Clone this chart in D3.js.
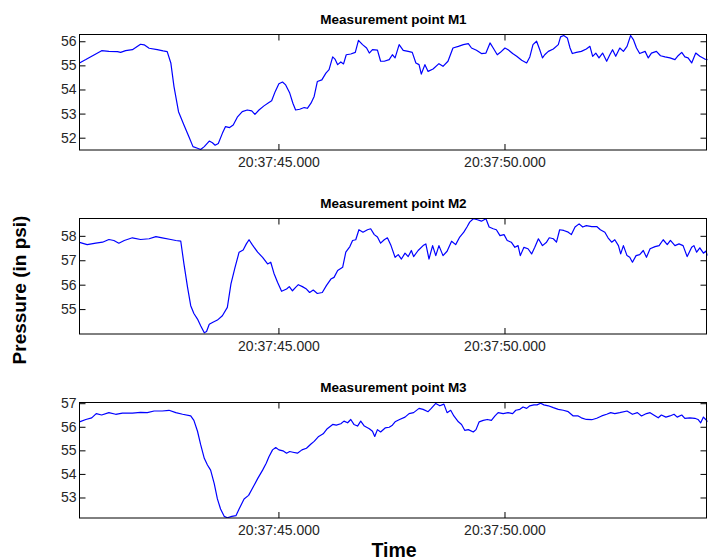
<!DOCTYPE html>
<html>
<head>
<meta charset="utf-8">
<script src="https://cdn.jsdelivr.net/npm/d3@7"></script>
<style>
  body { margin: 0; background: #fff; }
  svg { display: block; }
  text { font-family: "Liberation Sans", Arial, Helvetica, sans-serif; }
</style>
</head>
<body>
<svg id="chart" width="708" height="560"></svg>
<script>
// seconds after 20:37:00
const timeRange = [40.6, 54.49];
const timeTicks = [45, 50];
const titles = ["Measurement point M1", "Measurement point M2", "Measurement point M3"];

const m1Time = [40.60,40.74,40.89,41.09,41.25,41.44,41.51,41.62,41.77,41.95,42.03,42.14,42.32,42.45,42.54,42.62,42.69,42.79,42.91,43.02,
  43.11,43.21,43.28,43.36,43.47,43.54,43.60,43.67,43.76,43.83,43.92,44.00,44.09,44.20,44.31,44.41,44.48,44.57,44.68,44.79,
  44.85,44.93,45.01,45.09,45.16,45.25,45.32,45.38,45.47,45.57,45.64,45.72,45.79,45.86,45.96,46.05,46.12,46.20,46.25,46.31,
  46.38,46.44,46.50,46.60,46.70,46.77,46.86,46.95,47.01,47.08,47.19,47.26,47.34,47.45,47.52,47.58,
  47.67,47.76,47.87,47.96,48.04,48.11,48.16,48.24,48.31,48.42,48.55,48.64,48.75,48.86,48.98,49.09,49.20,49.27,49.38,49.49,
  49.59,49.68,49.75,49.84,49.91,50.01,50.08,50.18,50.27,50.38,50.49,50.56,50.63,50.71,50.78,50.84,50.89,50.97,51.08,51.19,
  51.24,51.31,51.39,51.45,51.50,51.59,51.70,51.81,51.89,51.95,52.02,52.09,52.17,52.26,52.33,52.39,52.46,52.55,52.63,52.71,
  52.79,52.85,52.92,52.99,53.11,53.18,53.25,53.36,53.45,53.55,53.66,53.77,53.84,53.92,53.99,54.06,54.14,54.23,54.32,54.43,54.50];
const m1Pressure = [55.10,55.24,55.40,55.61,55.58,55.57,55.54,55.61,55.65,55.875,55.85,55.71,55.65,55.60,55.57,55.10,54.12,53.08,52.53,52.04,
  51.63,51.56,51.51,51.63,51.86,51.79,51.69,51.76,52.18,52.46,52.42,52.53,52.85,53.08,53.15,53.11,52.97,53.15,53.32,53.46,
  53.53,53.92,54.24,54.31,54.19,53.85,53.43,53.15,53.18,53.25,53.22,53.43,53.71,54.33,54.40,54.68,54.82,55.35,55.26,55.03,
  55.14,55.06,55.44,55.47,55.54,56.04,55.86,55.72,55.51,55.65,55.63,55.17,55.17,55.24,55.44,55.31,
  55.86,55.625,55.58,55.54,55.10,55.03,54.64,55.03,54.75,54.85,55.07,54.96,55.17,55.72,55.79,55.86,55.90,55.72,55.625,55.49,
  55.51,55.93,55.72,55.44,55.54,55.72,55.65,55.49,55.375,55.21,55.10,55.35,55.86,56.0,55.65,55.31,55.44,55.58,55.68,55.86,
  56.18,56.24,56.14,55.72,55.49,55.54,55.58,55.68,55.79,55.375,55.51,55.31,55.51,55.17,55.44,55.65,55.375,55.72,55.58,55.79,
  56.24,56.07,55.72,55.49,55.58,55.31,55.51,55.58,55.40,55.35,55.31,55.24,55.40,55.54,55.35,55.31,55.10,55.51,55.375,55.26,55.24];

const m2Time = [40.60,40.77,40.96,41.11,41.25,41.36,41.47,41.59,41.77,41.95,42.14,42.29,42.43,42.62,42.73,42.84,42.91,42.99,43.06,43.13,
  43.21,43.28,43.36,43.41,43.47,43.54,43.65,43.76,43.87,43.95,44.04,44.13,44.22,44.29,44.35,44.42,44.54,44.65,44.76,44.83,
  44.90,44.98,45.07,45.18,45.24,45.31,45.38,45.44,45.53,45.62,45.69,45.77,45.86,45.97,46.06,46.16,46.23,46.31,46.42,46.49,
  46.58,46.64,46.71,46.78,46.87,46.97,47.04,47.12,47.19,47.26,47.34,47.41,47.49,47.58,
  47.65,47.72,47.80,47.87,47.94,47.99,48.09,48.20,48.26,48.33,48.41,48.48,48.55,48.64,48.73,48.83,48.92,49.01,49.10,49.17,
  49.23,49.31,49.40,49.49,49.59,49.66,49.75,49.82,49.90,49.99,50.06,50.15,50.23,50.30,50.35,50.43,50.52,50.60,50.67,50.75,
  50.84,50.93,50.99,51.08,51.15,51.22,51.31,51.41,51.48,51.56,51.65,51.73,51.81,51.93,52.04,52.12,52.22,52.29,52.37,52.44,
  52.52,52.57,52.63,52.71,52.77,52.83,52.91,52.99,53.07,53.14,53.22,53.33,53.42,53.51,53.60,53.67,53.77,53.86,53.95,54.04,
  54.14,54.19,54.25,54.32,54.40,54.45,54.50];
const m2Pressure = [57.73,57.64,57.70,57.74,57.85,57.81,57.70,57.81,57.92,57.85,57.88,57.97,57.92,57.85,57.81,57.78,56.85,55.89,55.14,54.82,
  54.59,54.32,54.03,54.08,54.38,54.45,54.55,54.73,55.07,56.03,56.71,57.33,57.42,57.67,57.84,57.64,57.33,57.12,56.85,56.92,
  56.47,56.10,55.73,55.82,55.92,55.75,55.89,56.0,55.92,55.82,55.68,55.78,55.64,55.68,55.96,56.23,56.30,56.58,56.71,57.33,
  57.56,57.81,57.84,58.25,58.15,58.25,58.29,58.05,57.95,57.70,57.84,57.92,57.60,57.12,
  57.23,57.05,57.29,57.15,57.40,57.15,57.40,57.60,57.67,57.05,57.60,57.19,57.60,57.19,57.37,57.78,57.64,57.95,58.15,58.36,
  58.56,58.70,58.66,58.60,58.70,58.36,58.29,58.25,58.01,58.05,57.81,57.74,57.53,57.60,57.19,57.53,57.47,57.26,57.53,57.88,
  57.60,57.74,57.92,57.88,57.74,58.25,58.22,58.15,58.05,58.36,58.49,58.36,58.42,58.38,58.38,58.25,58.15,57.92,57.74,57.84,
  57.60,57.26,57.60,57.19,57.12,56.92,57.19,57.23,57.40,57.12,57.47,57.56,57.60,57.84,57.64,57.81,57.60,57.67,57.60,57.15,
  57.53,57.60,57.33,57.51,57.29,57.37,57.19];

const m3Time = [40.60,40.74,40.87,40.97,41.09,41.25,41.40,41.55,41.77,41.95,42.10,42.25,42.43,42.58,42.73,42.88,43.06,43.13,43.21,43.28,
  43.36,43.43,43.50,43.58,43.65,43.72,43.80,43.87,43.97,44.06,44.13,44.24,44.34,44.42,44.54,44.65,44.73,44.79,44.87,44.94,
  45.01,45.10,45.18,45.25,45.32,45.42,45.52,45.62,45.72,45.79,45.89,45.99,46.08,46.20,46.28,46.38,46.45,46.53,46.60,46.67,
  46.75,46.82,46.90,47.01,47.08,47.13,47.19,47.26,47.36,47.45,47.52,47.58,
  47.68,47.80,47.89,47.99,48.11,48.20,48.31,48.38,48.48,48.57,48.66,48.73,48.81,48.88,48.98,49.05,49.12,49.20,49.31,49.37,
  49.44,49.53,49.62,49.71,49.79,49.86,49.97,50.08,50.18,50.25,50.34,50.41,50.49,50.56,50.65,50.72,50.80,50.87,50.97,51.08,
  51.19,51.30,51.41,51.52,51.63,51.70,51.81,51.93,52.04,52.15,52.26,52.35,52.44,52.55,52.71,52.83,52.94,53.03,53.14,53.22,
  53.30,53.40,53.47,53.57,53.66,53.75,53.82,53.92,53.99,54.10,54.21,54.28,54.34,54.40,54.45,54.50];
const m3Pressure = [56.21,56.31,56.38,56.56,56.50,56.60,56.53,56.58,56.58,56.61,56.60,56.67,56.67,56.70,56.60,56.53,56.46,56.27,55.81,55.24,
  54.66,54.38,54.16,53.59,52.94,52.51,52.20,52.14,52.20,52.23,52.51,52.94,53.09,53.37,53.80,54.16,54.45,54.73,55.02,55.12,
  55.02,54.98,54.88,54.95,54.92,54.88,55.02,55.09,55.27,55.38,55.59,55.70,55.92,56.10,56.07,56.13,56.24,56.17,56.31,56.10,
  56.03,56.24,56.03,55.92,55.81,55.59,55.88,55.78,55.95,55.98,56.07,56.21,
  56.31,56.41,56.56,56.60,56.78,56.74,56.64,56.78,56.99,56.89,56.96,56.60,56.70,56.46,56.21,56.10,55.85,55.88,55.78,55.88,
  56.21,56.27,56.31,56.27,56.46,56.60,56.56,56.60,56.56,56.70,56.74,56.84,56.78,56.89,56.93,56.93,57.0,56.93,56.89,56.81,
  56.74,56.70,56.64,56.46,56.46,56.38,56.31,56.30,56.36,56.46,56.53,56.60,56.56,56.60,56.67,56.53,56.60,56.46,56.56,56.60,
  56.50,56.38,56.50,56.41,56.46,56.53,56.41,56.50,56.36,56.38,56.36,56.31,56.17,56.41,56.31,56.21];

const yDomains = [[51.49, 56.28], [53.98, 58.71], [52.13, 57.03]];
const yTicks = [[52, 53, 54, 55, 56], [55, 56, 57, 58], [53, 54, 55, 56, 57]];

const series = [
  { time: m1Time, pressure: m1Pressure },
  { time: m2Time, pressure: m2Pressure },
  { time: m3Time, pressure: m3Pressure }
];

const svg = d3.select("#chart");
const left = 79.5, right = 707.5, panelH = 115.5;
const tops = [34.5, 218.5, 402.5];

const x = d3.scaleLinear().domain(timeRange).range([left, right]);
const fmtTime = s => "20:37:" + d3.format("06.3f")(s);

function styleAxis(g) {
  g.select(".domain").remove();
  g.selectAll(".tick line").attr("stroke", "#000");
  g.selectAll(".tick text")
    .attr("fill", "#262626")
    .style("font-size", "14px")
    .style("font-family", '"Liberation Sans", Arial, Helvetica, sans-serif');
}

series.forEach((s, i) => {
  const top = tops[i], bottom = top + panelH;
  const y = d3.scaleLinear().domain(yDomains[i]).range([bottom, top]);
  const g = svg.append("g");

  g.append("clipPath").attr("id", "clip" + i)
    .append("rect")
    .attr("x", left).attr("y", top)
    .attr("width", right - left).attr("height", panelH);

  const line = d3.line()
    .x(d => x(d[0]))
    .y(d => y(d[1]));

  g.append("path")
    .datum(d3.zip(s.time, s.pressure))
    .attr("clip-path", `url(#clip${i})`)
    .attr("fill", "none")
    .attr("stroke", "#0000ff")
    .attr("stroke-width", 1.2)
    .attr("stroke-linejoin", "round")
    .attr("d", line);

  // bottom and top time ticks
  g.append("g")
    .attr("transform", `translate(0,${bottom})`)
    .call(d3.axisBottom(x).tickValues(timeTicks).tickSize(-6).tickPadding(7).tickFormat(fmtTime))
    .call(styleAxis);
  g.append("g")
    .attr("transform", `translate(0,${top})`)
    .call(d3.axisTop(x).tickValues(timeTicks).tickSize(-6).tickFormat(""))
    .call(styleAxis);

  // left and right pressure ticks
  g.append("g")
    .attr("transform", `translate(${left},0)`)
    .call(d3.axisLeft(y).tickValues(yTicks[i]).tickSize(-6).tickPadding(3).tickFormat(d3.format("d")))
    .call(styleAxis);
  g.append("g")
    .attr("transform", `translate(${right - 1},0)`)
    .call(d3.axisRight(y).tickValues(yTicks[i]).tickSize(-6).tickFormat(""))
    .call(styleAxis);

  g.append("rect")
    .attr("x", left).attr("y", top)
    .attr("width", right - 1 - left).attr("height", panelH)
    .attr("fill", "none")
    .attr("stroke", "#000")
    .attr("stroke-width", 1);

  g.append("text")
    .attr("x", (left + right) / 2)
    .attr("y", top - 10.5)
    .attr("text-anchor", "middle")
    .style("font-size", "13.5px")
    .style("font-weight", "bold")
    .attr("fill", "#000")
    .text(titles[i]);
});

svg.append("text")
  .attr("transform", "translate(26,290) rotate(-90)")
  .attr("text-anchor", "middle")
  .style("font-size", "19px")
  .style("font-weight", "bold")
  .text("Pressure (in psi)");

svg.append("text")
  .attr("x", 394)
  .attr("y", 557)
  .attr("text-anchor", "middle")
  .style("font-size", "19.5px")
  .style("font-weight", "bold")
  .text("Time");
</script>
</body>
</html>
